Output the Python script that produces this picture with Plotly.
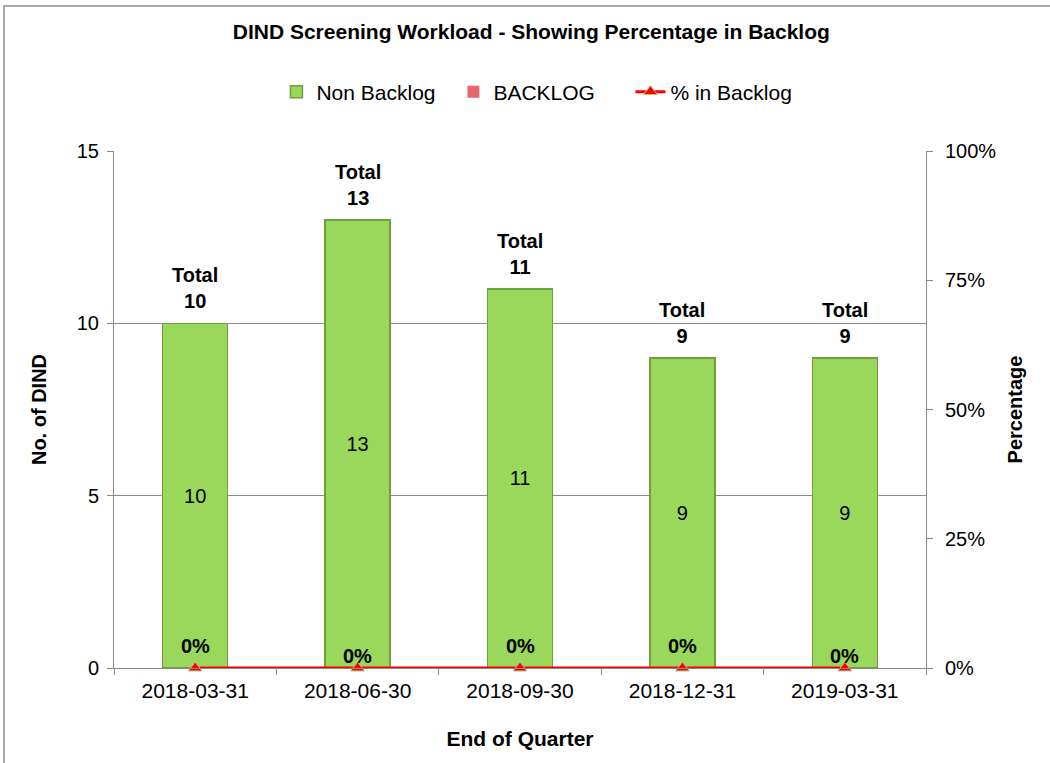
import plotly.graph_objects as go

quarters = ["2018-03-31", "2018-06-30", "2018-09-30", "2018-12-31", "2019-03-31"]
non_backlog = [10, 13, 11, 9, 9]
backlog = [0, 0, 0, 0, 0]
pct_backlog = [0, 0, 0, 0, 0]
totals = [10, 13, 11, 9, 9]
pct_label_shift = [22, 12, 22, 22, 12]

W, H = 1050, 763
ml, mr, mt, mb = 114, 124, 151, 95
pw, ph = W - ml - mr, H - mt - mb

FONT = "Liberation Sans, Arial, sans-serif"

fig = go.Figure()
fig.add_trace(go.Bar(
    x=quarters, y=non_backlog, name="Non Backlog",
    marker=dict(color="#9ad85c", line=dict(color="#6f9e3e", width=1.5)),
    text=[str(v) for v in non_backlog], textposition="inside",
    insidetextanchor="middle", textfont=dict(family=FONT, size=20, color="black"),
    width=0.4,
))
fig.add_trace(go.Bar(
    x=quarters, y=backlog, name="BACKLOG",
    marker=dict(color="#e8656a", line=dict(color="#a84448", width=0)),
    width=0.4,
))
fig.add_trace(go.Scatter(
    x=quarters, y=pct_backlog, name="% in Backlog", yaxis="y2",
    mode="lines+markers",
    line=dict(color="#ff0000", width=3),
    marker=dict(symbol="triangle-up", size=12, color="#ff0000",
                line=dict(color="#b7c98a", width=1)),
    cliponaxis=False,
))

annotations = []
for q, t in zip(quarters, totals):
    annotations.append(dict(
        x=q, y=t, xref="x", yref="y", text=f"<b>Total<br>{t}</b>",
        showarrow=False, yanchor="bottom", yshift=9,
        font=dict(family=FONT, size=20, color="black"),
    ))
for q, p, s in zip(quarters, pct_backlog, pct_label_shift):
    annotations.append(dict(
        x=q, y=p, xref="x", yref="y2", text=f"<b>{p}%</b>",
        showarrow=False, yanchor="middle", yshift=s,
        font=dict(family=FONT, size=20, color="black"),
    ))

fig.update_layout(
    width=W, height=H,
    margin=dict(l=ml, r=mr, t=mt, b=mb),
    paper_bgcolor="white", plot_bgcolor="white",
    barmode="stack",
    font=dict(family=FONT, size=20, color="black"),
    title=dict(text="<b>DIND Screening Workload - Showing Percentage in Backlog</b>",
               x=0.506, xanchor="center", y=1 - 32 / H, yanchor="middle",
               font=dict(family=FONT, size=21, color="black")),
    showlegend=True,
    legend=dict(orientation="h", x=0.527, xanchor="center",
                y=(H - mb - 92) / ph, yanchor="middle",
                font=dict(family=FONT, size=21, color="black"),
                itemwidth=30, entrywidth=132, tracegroupgap=0,
                traceorder="normal"),
    xaxis=dict(
        type="category", tickson="boundaries", ticks="outside", ticklen=6,
        tickcolor="#888888", showline=True, linecolor="#888888", linewidth=1,
        showgrid=False, tickfont=dict(family=FONT, size=21),
        ticklabelstandoff=4,
        title=dict(text="<b>End of Quarter</b>", standoff=30,
                   font=dict(family=FONT, size=21)),
    ),
    yaxis=dict(
        range=[0, 15], tickvals=[0, 5, 10, 15], ticks="outside", ticklen=6,
        tickcolor="#888888", showline=True, linecolor="#888888",
        showgrid=True, gridcolor="#8c8c8c", gridwidth=1, zeroline=False,
        tickfont=dict(family=FONT, size=20), ticklabelstandoff=4,
        title=dict(text="<b>No. of DIND</b>", standoff=24,
                   font=dict(family=FONT, size=20)),
    ),
    yaxis2=dict(
        overlaying="y", side="right", range=[0, 1],
        tickvals=[0, 0.25, 0.5, 0.75, 1], tickformat=".0%",
        ticks="outside", ticklen=6, tickcolor="#888888",
        showline=True, linecolor="#888888", showgrid=False, zeroline=False,
        tickfont=dict(family=FONT, size=20), ticklabelstandoff=8,
        title=dict(text="<b>Percentage</b>", standoff=12,
                   font=dict(family=FONT, size=20)),
    ),
    annotations=annotations,
    shapes=[dict(type="rect", xref="paper", yref="paper",
                 x0=-(ml - 4) / pw, x1=1 + (mr + 20) / pw,
                 y0=-(mb + 20) / ph, y1=1 + (mt - 6) / ph,
                 line=dict(color="#8c8c8c", width=1.5), layer="below")],
)

fig.write_html("out.html", config={"displayModeBar": False},
               post_script="document.body.style.margin='0px';")
